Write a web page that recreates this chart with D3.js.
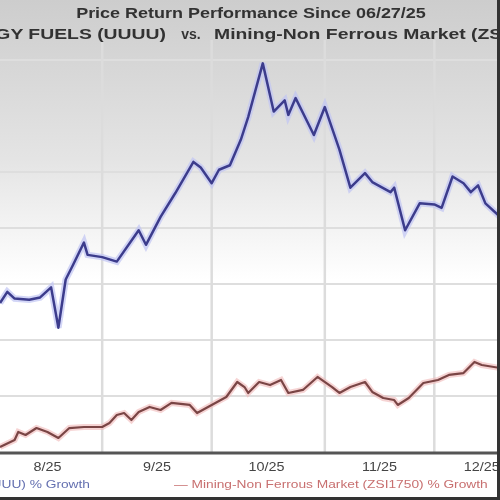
<!DOCTYPE html>
<html>
<head>
<meta charset="utf-8">
<script src="https://cdn.jsdelivr.net/npm/d3@7"></script>
<style>
  body { margin: 0; background: #fff; }
  text { font-family: "Liberation Sans", Arial, sans-serif; }
</style>
</head>
<body>
<div id="chart-area"></div>
<script>
// data (% growth since 06/27/25)
var uuuuDates = ["2025-08-04", "2025-08-06", "2025-08-08", "2025-08-12", "2025-08-15", "2025-08-18",
  "2025-08-20", "2025-08-22", "2025-08-24", "2025-08-27", "2025-08-28", "2025-09-01", "2025-09-05",
  "2025-09-11", "2025-09-13", "2025-09-17", "2025-09-21", "2025-09-26", "2025-09-28", "2025-10-01",
  "2025-10-03", "2025-10-06", "2025-10-09", "2025-10-11", "2025-10-15", "2025-10-18", "2025-10-21",
  "2025-10-22", "2025-10-24", "2025-10-29", "2025-11-01", "2025-11-05", "2025-11-08", "2025-11-12",
  "2025-11-14", "2025-11-19", "2025-11-20", "2025-11-23", "2025-11-27", "2025-12-01", "2025-12-03",
  "2025-12-06", "2025-12-09", "2025-12-11", "2025-12-13", "2025-12-15", "2025-12-19"];
var uuuuValues = [133, 143, 137, 136, 138, 147,
  111, 154, 167, 187, 176, 174, 170,
  198, 185, 210, 231, 259, 254, 240,
  252, 256, 279, 299, 347, 304, 314,
  301, 316, 283, 308, 270, 236, 249,
  241, 232, 236, 198, 222, 221, 218,
  246, 240, 232, 238, 222, 210];

var zsiDates = ["2025-08-04", "2025-08-08", "2025-08-09", "2025-08-11", "2025-08-14", "2025-08-17",
  "2025-08-20", "2025-08-23", "2025-08-27", "2025-09-01", "2025-09-03", "2025-09-05", "2025-09-07",
  "2025-09-09", "2025-09-11", "2025-09-14", "2025-09-17", "2025-09-20", "2025-09-25", "2025-09-27",
  "2025-09-30", "2025-10-05", "2025-10-08", "2025-10-10", "2025-10-11", "2025-10-14", "2025-10-17",
  "2025-10-20", "2025-10-22", "2025-10-26", "2025-10-30", "2025-11-03", "2025-11-05", "2025-11-08",
  "2025-11-12", "2025-11-14", "2025-11-17", "2025-11-20", "2025-11-21", "2025-11-24", "2025-11-28",
  "2025-12-02", "2025-12-05", "2025-12-09", "2025-12-12", "2025-12-14", "2025-12-19"];
var zsiValues = [4.5, 10.7, 17.9, 15.2, 21.4, 17.9,
  12.5, 21.4, 22.3, 22.3, 25.9, 33, 34.8,
  28.6, 35.7, 40.2, 37.5, 43.8, 42, 34.8,
  40.2, 49.1, 62.5, 58, 52.7, 62.5, 59.8,
  64.3, 52.7, 55.4, 67, 58, 52.7, 58,
  62.5, 53.6, 48.2, 46.4, 42, 48.2, 61.6,
  64.3, 68.8, 70.5, 80.4, 77.7, 75];

var gridValues = [50, 100, 150, 200, 250, 300, 350];
var labelDates = ["2025-08-17", "2025-09-16", "2025-10-16", "2025-11-16", "2025-12-14"];

var parse = d3.timeParse("%Y-%m-%d");
var width = 500, height = 500;

var svg = d3.select("#chart-area")
  .append("svg")
  .attr("width", width)
  .attr("height", height);

var defs = svg.append("defs");
var grad = defs.append("linearGradient")
  .attr("id", "bg")
  .attr("x1", 0).attr("y1", 0).attr("x2", 0).attr("y2", 1);
grad.append("stop").attr("offset", "0%").attr("stop-color", "#cdcdcd");
grad.append("stop").attr("offset", "35%").attr("stop-color", "#e4e4e4");
grad.append("stop").attr("offset", "62%").attr("stop-color", "#ffffff");
grad.append("stop").attr("offset", "100%").attr("stop-color", "#ffffff");

defs.append("filter").attr("id", "soft")
  .append("feGaussianBlur").attr("stdDeviation", 0.6);

defs.append("clipPath").attr("id", "plot")
  .append("rect").attr("x", 0).attr("y", 40).attr("width", 497).attr("height", 412);

svg.append("rect")
  .attr("width", width)
  .attr("height", 452)
  .attr("fill", "url(#bg)");

// scales
var x = d3.scaleTime()
  .domain([parse("2025-08-04"), parse("2025-12-19")])
  .range([0, 500]);

var y = d3.scaleLinear()
  .domain([0, 400])
  .range([452, 4]);

// grid
var grid = svg.append("g").attr("clip-path", "url(#plot)");
grid.selectAll("line.h")
  .data(gridValues)
  .enter()
  .append("line")
  .attr("class", "h")
  .attr("x1", 0).attr("x2", 497)
  .attr("y1", function(d) { return y(d); })
  .attr("y2", function(d) { return y(d); })
  .attr("stroke", "#dedede")
  .attr("stroke-width", 2);

grid.selectAll("line.v")
  .data(d3.timeMonth.range(x.domain()[0], x.domain()[1]))
  .enter()
  .append("line")
  .attr("class", "v")
  .attr("x1", function(d) { return x(d); })
  .attr("x2", function(d) { return x(d); })
  .attr("y1", 40).attr("y2", 452)
  .attr("stroke", "#dcdcdc")
  .attr("stroke-width", 2.5);

// lines
var line = function(dates, values) {
  return d3.line()
    .x(function(d, i) { return x(parse(dates[i])); })
    .y(function(d) { return y(d); })(values);
};

var lines = svg.append("g").attr("clip-path", "url(#plot)");

lines.append("path")
  .attr("d", line(zsiDates, zsiValues))
  .attr("fill", "none")
  .attr("stroke", "#f0b8b8")
  .attr("stroke-width", 6)
  .attr("stroke-opacity", 0.6);
lines.append("path")
  .attr("d", line(zsiDates, zsiValues))
  .attr("fill", "none")
  .attr("stroke", "#7a4545")
  .attr("stroke-width", 2.2)
  .attr("stroke-linejoin", "round");

lines.append("path")
  .attr("d", line(uuuuDates, uuuuValues))
  .attr("fill", "none")
  .attr("stroke", "#c0c4f4")
  .attr("stroke-width", 6.5)
  .attr("stroke-opacity", 0.7);
lines.append("path")
  .attr("d", line(uuuuDates, uuuuValues))
  .attr("fill", "none")
  .attr("stroke", "#3c3c8c")
  .attr("stroke-width", 2.5)
  .attr("stroke-linejoin", "round");

// x axis line
svg.append("line")
  .attr("x1", 0).attr("x2", 500)
  .attr("y1", 453).attr("y2", 453)
  .attr("stroke", "#555")
  .attr("stroke-width", 3);

// text is stretched sideways in the source picture
var stretched = function(g, tx, ty, sx, anchor, size, weight, color, str) {
  return g.append("text")
    .attr("transform", "translate(" + tx + "," + ty + ") scale(" + sx + ",1)")
    .attr("text-anchor", anchor)
    .attr("font-size", size)
    .attr("font-weight", weight)
    .attr("fill", color)
    .text(str);
};

var txt = svg.append("g").attr("filter", "url(#soft)");

// tick labels
labelDates.forEach(function(d) {
  stretched(txt, x(parse(d)), 471, 1.2, "middle", "12px", "normal", "#444",
    d3.timeFormat("%-m/%y")(parse(d)));
});

// titles
stretched(txt, 251, 18, 1.2, "middle", "15px", "bold", "#333", "Price Return Performance Since 06/27/25");
stretched(txt, 166, 39, 1.25, "end", "15.5px", "bold", "#333", "ENERGY FUELS (UUUU)");
stretched(txt, 191, 39, 1, "middle", "14px", "bold", "#333", "vs.");
stretched(txt, 214, 39, 1.25, "start", "15.5px", "bold", "#333", "Mining-Non Ferrous Market (ZSI1750)");

// legend
stretched(txt, 90, 488, 1.25, "end", "11px", "normal", "#6470b0", "— ENERGY FUELS (UUUU) % Growth");
stretched(txt, 174, 488, 1.25, "start", "11px", "normal", "#c87070", "— Mining-Non Ferrous Market (ZSI1750) % Growth");

// frame
svg.append("line")
  .attr("x1", 498.5).attr("x2", 498.5)
  .attr("y1", 0).attr("y2", 500)
  .attr("stroke", "#333").attr("stroke-width", 3);
svg.append("line")
  .attr("x1", 0).attr("x2", 500)
  .attr("y1", 498.5).attr("y2", 498.5)
  .attr("stroke", "#333").attr("stroke-width", 3);
</script>
</body>
</html>
